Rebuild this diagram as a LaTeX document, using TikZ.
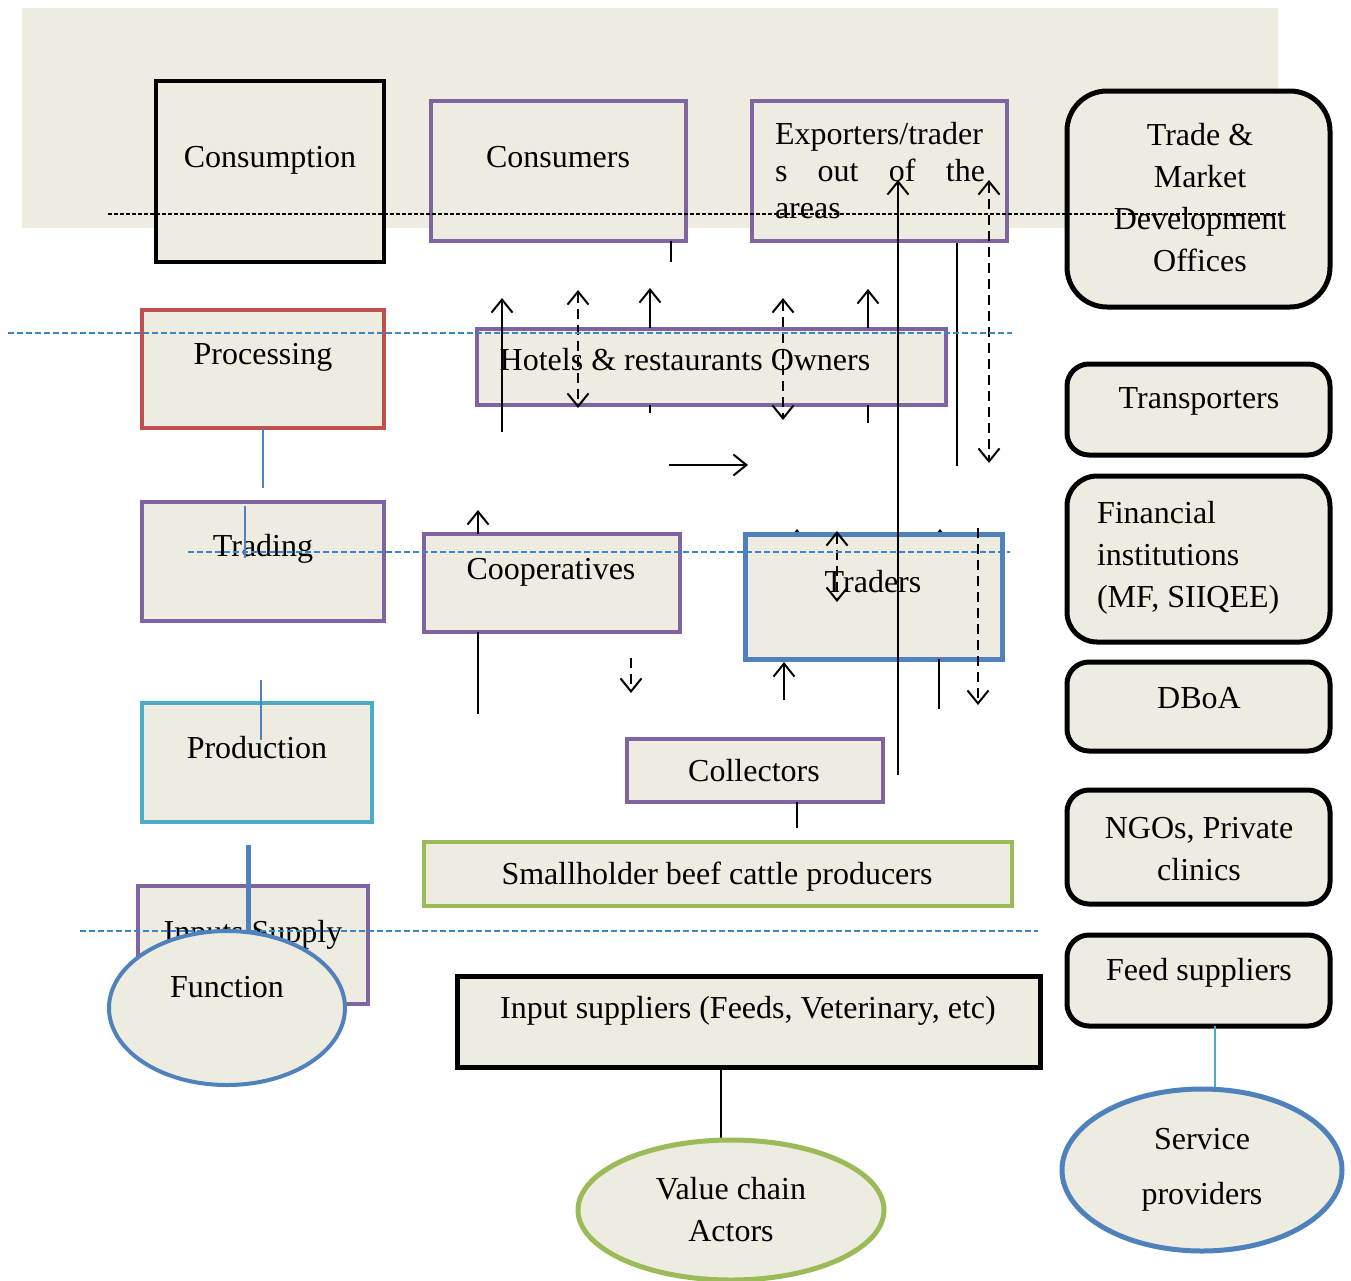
\documentclass[tikz,border=0pt]{standalone}
\usepackage{fontspec}
\setmainfont{Liberation Serif}
\usetikzlibrary{arrows.meta,shapes.geometric}
\definecolor{bg}{HTML}{EEECE1}
\definecolor{vpurple}{HTML}{8064A2}
\definecolor{vred}{HTML}{C0504D}
\definecolor{vcyan}{HTML}{4BACC6}
\definecolor{vblue}{HTML}{4F81BD}
\definecolor{vgreen}{HTML}{9BBB59}
\definecolor{dblue}{HTML}{3A86C8}
\newcommand\mkbox[6]{%
  \pgfmathsetmacro\bw{(#5-#3)*0.5}\pgfmathsetmacro\bh{(#6-#4)*0.5}%
  \node[#2, minimum width=\bw pt, minimum height=\bh pt, anchor=north west] (#1) at (#3,#4) {};}
\begin{document}
\begin{tikzpicture}[x=0.5pt,y=-0.5pt,
  every node/.style={inner sep=0pt, outer sep=0pt},
  txt/.style={font=\fontsize{16}{21}\selectfont, text height=11pt, text depth=3pt, yshift=-1pt},
  mtxt/.style={font=\fontsize{16}{21}\selectfont, align=center, yshift=-1pt},
  pbox/.style={draw=vpurple, fill=bg, line width=2pt},
  kbox/.style={draw=black, fill=bg, line width=2.2pt},
  rbox/.style={draw=black, fill=bg, line width=2.5pt, rounded corners=11pt},
  >={Straight Barb[length=6.5pt,width=10.5pt,line width=1pt]},
  ar/.style={line width=1.1pt},
  dar/.style={line width=1.1pt, dash pattern=on 5pt off 3pt},
  sep/.style={dblue, line width=0.7pt, dash pattern=on 3pt off 1.5pt},
  thinb/.style={vblue, line width=0.7pt}]
\useasboundingbox (0,0) rectangle (1351,1281);
% background band
\fill[bg] (22,8) rectangle (1278,228);

% left column (functions)
\mkbox{consumption}{kbox}{156}{81}{384}{262}
\node[txt] (consumptiont) at (270,157) {Consumption};
\mkbox{processing}{pbox, draw=vred}{142}{310}{384}{428}
\node[txt] (processingt) at (263,354) {Processing};
\mkbox{trading}{pbox}{142}{502}{384}{621}
\node[txt] (tradingt) at (263,546) {Trading};
\mkbox{production}{pbox, draw=vcyan}{142}{703}{372}{822}
\node[txt] (productiont) at (257,748) {Production};
\mkbox{inputs}{pbox}{138}{886}{368}{1004}
\node[txt] (inputst) at (253,932) {Inputs Supply};

% middle column (actors)
\mkbox{consumers}{pbox}{431}{101}{686}{241}
\node[txt] (consumerst) at (558,157) {Consumers};
\mkbox{exporters}{pbox}{752}{101}{1007}{241}
\node[font=\fontsize{16}{18.5}\selectfont, align=left, anchor=west, yshift=-1pt] (exporterst) at (775,169)
  {Exporters/trader\\\makebox[105pt][s]{s\hfill out\hfill of\hfill the}\\areas};
\mkbox{hotels}{pbox}{477}{329}{946}{405}
\node[txt] (hotelst) at (685,360) {Hotels \& restaurants Owners};
\mkbox{coops}{pbox}{424}{534}{680}{632}
\node[txt] (coopst) at (551,569) {Cooperatives};
% small tips peeking above the traders box
\draw[ar,->] (797,560) -- (797,529);
\draw[ar,->] (940,560) -- (940,529);
\mkbox{traders}{pbox, draw=vblue, line width=2.5pt}{745}{534}{1002}{659}
\node[txt] (traderst) at (873,582) {Traders};
\mkbox{collectors}{pbox}{627}{739}{883}{802}
\node[txt] (collectorst) at (754,771) {Collectors};
\mkbox{smallholder}{pbox, draw=vgreen, line width=2.2pt}{424}{842}{1012}{906}
\node[txt] (smallholdert) at (717,874) {Smallholder beef cattle producers};
\mkbox{suppliers}{kbox, line width=2.5pt}{457}{976}{1040}{1067}
\node[txt] (supplierst) at (748,1008) {Input suppliers (Feeds, Veterinary, etc)};

% right column (service providers)
\mkbox{trade}{rbox, rounded corners=20pt}{1067}{91}{1330}{307}
\node[mtxt] (tradet) at (1200,196) {Trade \&\\Market\\Development\\Offices};
\mkbox{transporters}{rbox}{1067}{364}{1330}{455}
\node[txt] (transporterst) at (1199,398) {Transporters};
\mkbox{financial}{rbox, rounded corners=15pt}{1067}{476}{1330}{642}
\node[font=\fontsize{16}{21}\selectfont, align=left, anchor=west, yshift=-1pt] (financialt) at (1097,556)
  {Financial\\institutions\\(MF, SIIQEE)};
\mkbox{dboa}{rbox}{1067}{662}{1330}{751}
\node[txt] (dboat) at (1199,698) {DBoA};
\mkbox{ngos}{rbox}{1067}{790}{1330}{904}
\node[mtxt] (ngost) at (1199,847) {NGOs, Private\\clinics};
\mkbox{feed}{rbox}{1067}{935}{1330}{1026}
\node[txt] (feedt) at (1199,970) {Feed suppliers};

% flow arrows and lines
\draw[ar,->] (502,432) -- (502,298);
\draw[dar,<->] (578,290) -- (578,408);
\draw[ar,->] (650,328) -- (650,288);
\draw[ar] (650,405) -- (650,413);
\draw[dar,<->] (783,298) -- (783,420);
\draw[ar,->] (868,328) -- (868,289);
\draw[ar] (868,405) -- (868,423);
\draw[ar] (671,241) -- (671,262);
\draw[ar,->] (898,775) -- (898,180);
\draw[ar] (957,243) -- (957,466);
\draw[dar,<->] (989,180) -- (989,463);
\draw[ar,->] (669,465) -- (748,465);
\draw[ar,->] (478,534) -- (478,510);
\draw[ar] (478,632) -- (478,714);
\draw[dar,->] (631,658) -- (631,693);
\draw[dar,<->] (837,531) -- (837,602);
\draw[dar,->] (978,528) -- (978,705);
\draw[ar,->] (784,700) -- (784,662);
\draw[ar] (939,659) -- (939,709);
\draw[ar] (797,802) -- (797,828);
\draw[line width=0.7pt] (721,1067) -- (721,1138);

% thin blue connectors of the left column
\draw[thinb] (263,428) -- (263,488);
\draw[thinb] (245,506) -- (245,558);
\draw[thinb] (261,680) -- (261,740);
\draw[vblue, line width=2.5pt] (248,845) -- (248,940);
\draw[vcyan, line width=0.7pt] (1215,1026) -- (1215,1090);

% separator lines
\draw[line width=0.75pt, dash pattern=on 2pt off 1pt] (108,214) -- (1283,214);
\draw[sep] (8,333) -- (1012,333);
\draw[sep] (188,552) -- (1010,552);
\draw[sep] (80,931) -- (1038,931);

% legend ellipses
\node[ellipse, draw=vblue, fill=bg, line width=2pt, minimum width=118pt, minimum height=77pt] (function) at (227,1008) {};
\node[txt] (functiont) at (227,987) {Function};
\node[ellipse, draw=vgreen, fill=bg, line width=2.5pt, minimum width=153pt, minimum height=70pt,
  font=\fontsize{16}{21}\selectfont, align=center, yshift=-1pt] (actors) at (731,1208) {Value chain\\Actors};
\node[ellipse, draw=vblue, fill=bg, line width=2.5pt, minimum width=140pt, minimum height=81pt,
  font=\fontsize{16}{27.5}\selectfont, align=center] (service) at (1202,1170) {Service\\providers};
\end{tikzpicture}
\end{document}
